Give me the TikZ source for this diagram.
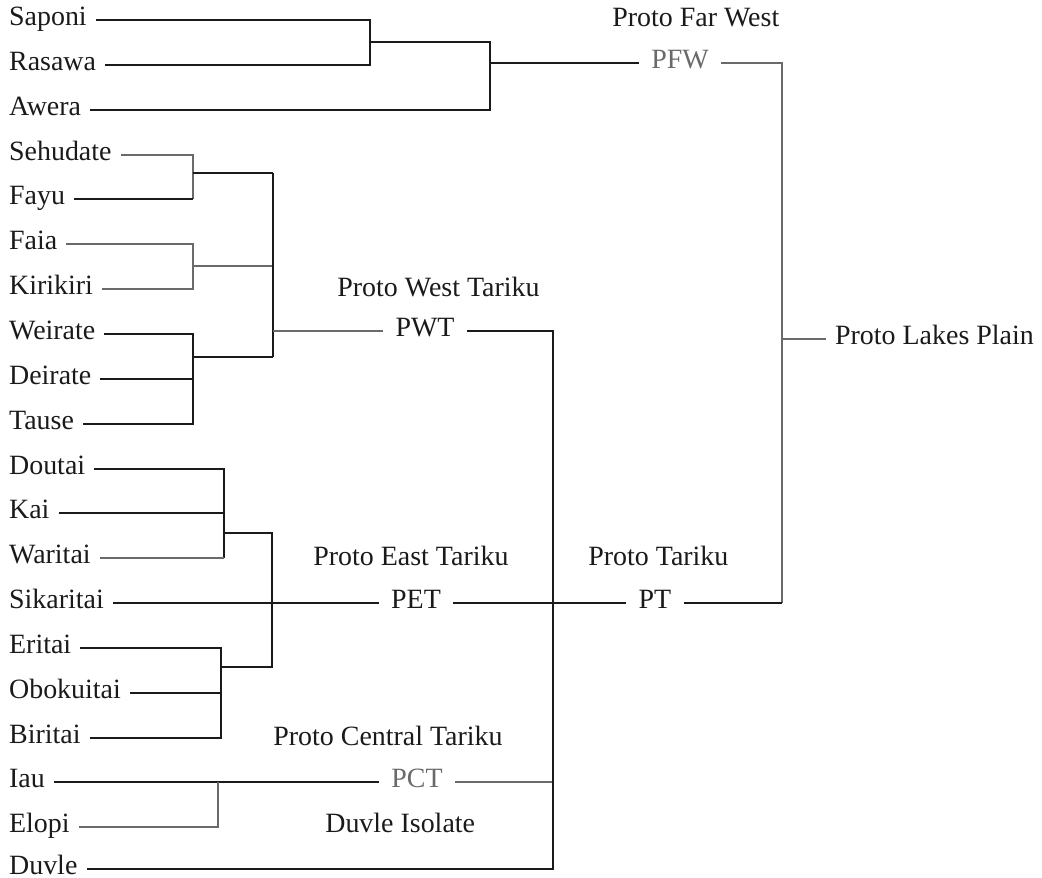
\documentclass[tikz,border=0pt]{standalone}
\usepackage{fontspec}
\setmainfont{Liberation Serif}
\usepackage{xcolor}
\definecolor{tink}{HTML}{1A1A1A}
\definecolor{tgray}{HTML}{6A6A6A}
\newcommand{\treefont}{\fontsize{15.9}{19}\selectfont}
\tikzset{
  lang/.style={anchor=west, inner xsep=5pt, inner ysep=0pt,
               text height=0.7em, text depth=0.12em, font=\treefont, text=tink},
  proto/.style={inner xsep=7pt, inner ysep=0pt,
                text height=0.7em, text depth=0.12em, font=\treefont, text=tink},
  fproto/.style={proto, text=tgray},
  gname/.style={anchor=base west, inner sep=0pt, font=\treefont, text=tink},
  link/.style={line width=1.4pt, tink},
  flink/.style={line width=1pt, tgray},
}

\begin{document}
\begin{tikzpicture}[x=0.02cm, y=-0.02cm]
  \useasboundingbox (0,0) rectangle (1042,878);

  % Languages
  \node[lang] (sap) at (0,20)  {Saponi};
  \node[lang] (ras) at (0,65)  {Rasawa};
  \node[lang] (awe) at (0,110) {Awera};
  \node[lang] (seh) at (0,155) {Sehudate};
  \node[lang] (fay) at (0,199) {Fayu};
  \node[lang] (fai) at (0,244) {Faia};
  \node[lang] (kir) at (0,289) {Kirikiri};
  \node[lang] (wei) at (0,334) {Weirate};
  \node[lang] (dei) at (0,379) {Deirate};
  \node[lang] (tau) at (0,424) {Tause};
  \node[lang] (dou) at (0,469) {Doutai};
  \node[lang] (kai) at (0,513) {Kai};
  \node[lang] (war) at (0,558) {Waritai};
  \node[lang] (sik) at (0,603) {Sikaritai};
  \node[lang] (eri) at (0,648) {Eritai};
  \node[lang] (obo) at (0,693) {Obokuitai};
  \node[lang] (bir) at (0,738) {Biritai};
  \node[lang] (iau) at (0,782) {Iau};
  \node[lang] (elo) at (0,827) {Elopi};
  \node[lang] (duv) at (0,869) {Duvle};

  % Proto nodes
  \node[fproto] (pfw) at (680,63)  {PFW};
  \node[proto]  (pwt) at (425,331) {PWT};
  \node[proto]  (pet) at (416,603) {PET};
  \node[proto]  (pt)  at (655,603) {PT};
  \node[fproto] (pct) at (417,782) {PCT};
  \node[lang]   (plp) at (826,339) {Proto Lakes Plain};

  % Group names
  \node[gname] (tpfw) at (612,27)  {Proto Far West};
  \node[gname] (tpwt) at (337,297) {Proto West Tariku};
  \node[gname] (tpet) at (313,565) {Proto East Tariku};
  \node[gname] (tpt)  at (588,565) {Proto Tariku};
  \node[gname] (tpct) at (273,745) {Proto Central Tariku};
  \node[gname] (tdi)  at (325,832) {Duvle Isolate};

  % Junctions
  \coordinate (fw1) at (370,42);
  \coordinate (fw2) at (490,63);
  \coordinate (wt1) at (193,173);
  \coordinate (wt2) at (193,266);
  \coordinate (wt3) at (193,357);
  \coordinate (wt)  at (273,331);
  \coordinate (et1) at (224,533);
  \coordinate (et2) at (221,667);
  \coordinate (et)  at (272,603);
  \coordinate (ct)  at (218,782);
  \coordinate (tk)  at (553,331);
  \coordinate (lp)  at (782,339);

  % Far West
  \draw[link] (sap.east) -- (sap.east -| fw1) -- (ras.east -| fw1) -- (ras.east);
  \draw[link] (fw1) -- (fw1 -| fw2) -- (awe.east -| fw2) -- (awe.east);
  \draw[link] (fw2) -- (pfw.west);

  % West Tariku
  \draw[flink] (seh.east) -- (seh.east -| wt1) -- (fay.east -| wt1);
  \draw[link] (fay.east) -- (fay.east -| wt1);
  \draw[link] (wt1) -- (wt1 -| wt);
  \draw[flink] (fai.east) -- (fai.east -| wt2) -- (kir.east -| wt2) -- (kir.east);
  \draw[flink] (wt2) -- (wt2 -| wt);
  \draw[link] (wei.east) -- (wei.east -| wt3) -- (tau.east -| wt3) -- (tau.east);
  \draw[link] (dei.east) -- (dei.east -| wt3);
  \draw[link] (wt3) -- (wt3 -| wt);
  \draw[link] (wt1 -| wt) -- (wt3 -| wt);
  \draw[flink] (wt) -- (pwt.west);

  % East Tariku
  \draw[link] (dou.east) -- (dou.east -| et1) -- (war.east -| et1);
  \draw[flink] (war.east) -- (war.east -| et1);
  \draw[link] (kai.east) -- (kai.east -| et1);
  \draw[link] (et1) -- (et1 -| et) -- (et2 -| et) -- (et2);
  \draw[link] (eri.east) -- (eri.east -| et2) -- (bir.east -| et2) -- (bir.east);
  \draw[link] (obo.east) -- (obo.east -| et2);
  \draw[link] (sik.east) -- (pet.west);

  % Central Tariku and Duvle
  \draw[link] (iau.east) -- (pct.west);
  \draw[flink] (elo.east) -- (elo.east -| ct) -- (ct);
  \draw[flink] (pct.east) -- (pct.east -| tk);

  % Tariku
  \draw[link] (pwt.east) -- (tk) -- (duv.east -| tk) -- (duv.east);
  \draw[link] (pet.east) -- (pt.west);

  % Lakes Plain
  \draw[flink] (pfw.east) -- (pfw.east -| lp) -- (pt.east -| lp);
  \draw[link] (pt.east) -- (pt.east -| lp);
  \draw[flink] (lp) -- (plp.west);
\end{tikzpicture}
\end{document}
